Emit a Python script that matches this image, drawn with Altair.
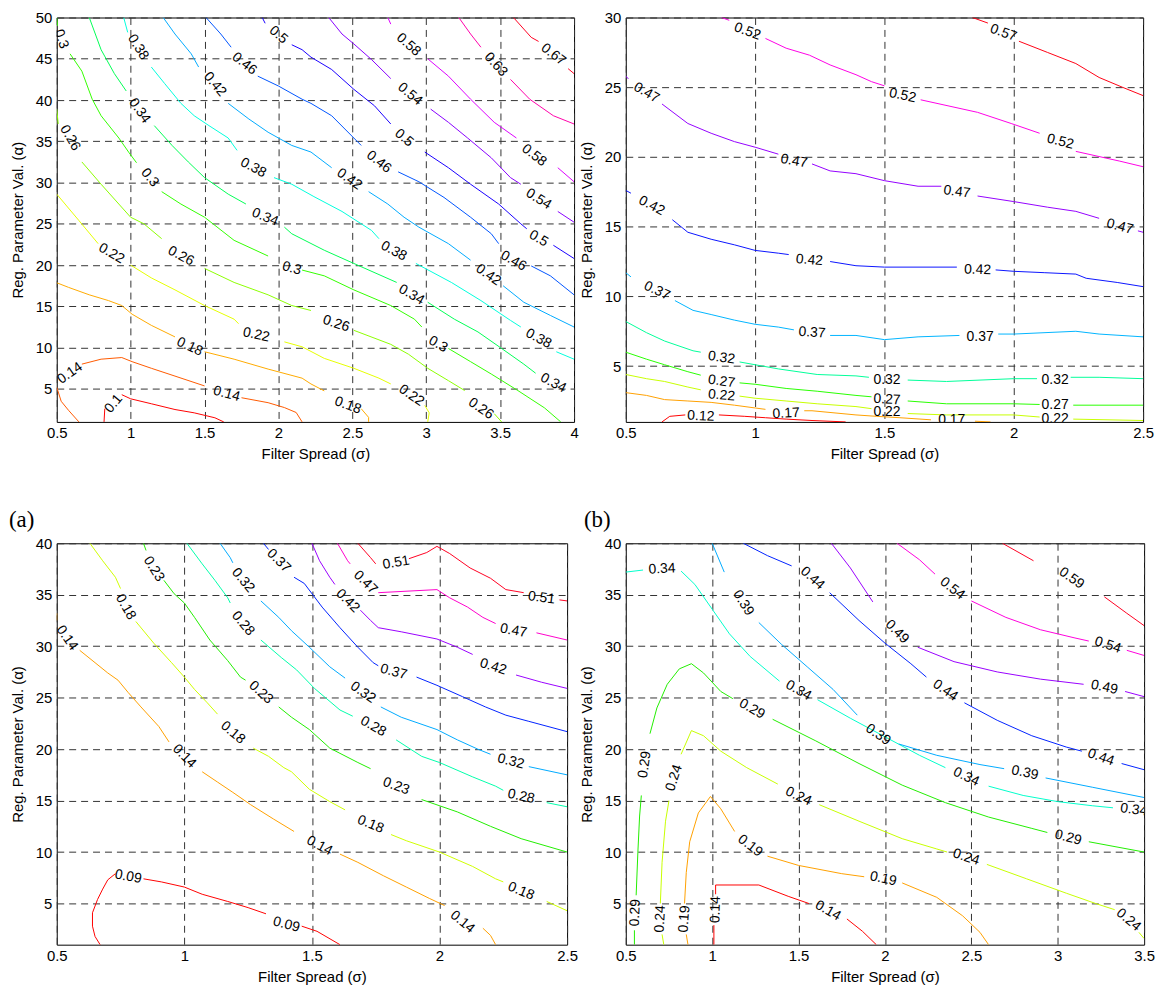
import altair as alt
import pandas as pd

FONT = "Liberation Sans"

# ---------------- Panel 1 (top-left) ----------------
P1_LEVELS = ["0.1", "0.14", "0.18", "0.22", "0.26", "0.3", "0.34", "0.38",
             "0.42", "0.46", "0.5", "0.54", "0.58", "0.63", "0.67"]
P1_COLORS = ["#ff0000", "#ff5a00", "#ffaa00", "#e6ff00", "#8cff00", "#33ff00",
             "#00ff55", "#00ffdd", "#00aaff", "#0055ff", "#1a00ff", "#8800ff",
             "#dd00ff", "#ff00aa", "#ff0022"]
P1_010 = [[(0.82, 1.0), (0.825, 2.6)],
          [(0.94, 4.3), (1.0, 3.8), (1.14, 3.2), (1.30, 2.5), (1.43, 2.1), (1.57, 1.5), (1.63, 1.0)]]
P1_014 = [[(0.5, 5.2), (0.53, 3.5), (0.58, 2.4), (0.65, 1.0)],
          [(0.67, 8.0), (0.80, 8.6), (0.94, 8.8), (1.01, 8.3), (1.14, 7.5), (1.30, 6.55), (1.50, 5.36)],
          [(1.75, 3.93), (1.93, 3.33), (2.04, 2.74), (2.12, 2.14), (2.16, 1.0)]]
P1_018 = [[(0.5, 17.86), (0.58, 17.3), (0.72, 16.4), (0.85, 15.7), (0.94, 15.1), (1.01, 14.05), (1.14, 12.7), (1.30, 11.3)],
          [(1.50, 9.5), (1.70, 8.6), (1.93, 7.4), (2.16, 6.3), (2.22, 5.6), (2.31, 4.76)],
          [(2.56, 2.6), (2.61, 1.55), (2.61, 1.0)]]
P1_022 = [[(0.5, 28.6), (0.65, 25.4), (0.78, 22.6)],
          [(1.0, 20.0), (1.14, 18.45), (1.30, 17.0), (1.50, 15.1), (1.70, 13.45), (1.73, 12.9)],
          [(2.04, 10.7), (2.16, 10.1), (2.31, 8.7), (2.51, 7.5), (2.68, 6.3), (2.76, 5.6)],
          [(2.99, 3.0), (3.02, 2.1), (3.01, 1.0)]]
P1_026 = [[(0.5, 38.9), (0.51, 37.1)],
          [(0.67, 32.5), (0.80, 29.8), (0.92, 27.4), (1.0, 25.8), (1.09, 25.0), (1.21, 23.2)],
          [(1.50, 19.6), (1.70, 17.9), (1.93, 16.4), (2.09, 15.1), (2.22, 14.5)],
          [(2.51, 12.1), (2.76, 10.4), (2.88, 9.2), (3.01, 7.5), (3.15, 6.0), (3.26, 4.8)],
          [(3.46, 2.0), (3.51, 1.0)]]
P1_030 = [[(0.5, 50.0), (0.505, 49.0)],
          [(0.59, 45.6), (0.67, 43.5), (0.74, 40.1), (0.80, 38.1), (0.92, 35.4), (0.99, 33.6), (1.04, 32.4)],
          [(1.21, 28.9), (1.34, 27.4), (1.50, 25.8), (1.70, 23.0), (1.93, 21.1)],
          [(2.16, 19.4), (2.31, 18.7), (2.51, 17.0), (2.76, 15.1), (2.92, 13.45), (2.97, 12.5)],
          [(3.15, 9.9), (3.30, 8.3), (3.44, 6.8), (3.62, 4.8), (3.80, 2.7), (3.91, 1.0)]]
P1_034 = [[(0.72, 50.0), (0.80, 46.1), (0.89, 43.2), (0.97, 41.1)],
          [(1.16, 36.9), (1.28, 34.5), (1.39, 32.5), (1.50, 30.6), (1.66, 28.6), (1.78, 27.4)],
          [(2.04, 24.6), (2.09, 23.8), (2.31, 21.8), (2.51, 20.2), (2.80, 17.9)],
          [(3.01, 15.5), (3.19, 13.45), (3.35, 11.9), (3.51, 9.9), (3.66, 8.0), (3.74, 6.9)]]
P1_038 = [[(0.953, 50.0), (0.98, 48.2)],
          [(1.14, 44.0), (1.23, 42.0), (1.34, 39.6), (1.43, 38.1), (1.53, 36.9), (1.66, 35.4), (1.72, 33.9)],
          [(1.97, 30.6), (2.09, 29.8), (2.24, 28.3), (2.43, 26.5), (2.63, 24.2), (2.68, 23.2)],
          [(2.93, 20.2), (3.17, 17.9), (3.37, 15.7), (3.57, 13.3), (3.64, 12.5)],
          [(3.88, 9.5), (4.0, 8.6)]]
P1_042 = [[(1.22, 50.0), (1.30, 48.0), (1.41, 45.6), (1.46, 44.0)],
          [(1.66, 39.6), (1.80, 37.7), (1.93, 36.1), (2.09, 34.5), (2.22, 33.7), (2.36, 31.8)],
          [(2.61, 28.9), (2.74, 27.4), (2.85, 25.8), (2.95, 24.6), (3.15, 22.6), (3.30, 20.6)],
          [(3.52, 17.5), (3.66, 15.5), (3.84, 13.9), (4.0, 12.5)]]
P1_046 = [[(1.51, 50.0), (1.61, 48.0), (1.68, 46.4)],
          [(1.86, 42.9), (2.0, 41.7), (2.16, 40.1), (2.22, 39.6), (2.36, 38.1), (2.51, 35.4), (2.56, 34.5)],
          [(2.81, 31.3), (2.95, 30.1), (3.12, 28.2), (3.30, 25.8), (3.44, 23.8), (3.49, 22.6)],
          [(3.71, 19.9), (3.84, 18.7), (4.0, 16.4)]]
P1_050 = [[(1.89, 50.0), (1.91, 49.3)],
          [(2.09, 46.7), (2.16, 46.1), (2.22, 45.2), (2.36, 43.7), (2.51, 41.3), (2.65, 39.3), (2.76, 37.1)],
          [(2.99, 33.7), (3.15, 31.8), (3.30, 29.8), (3.49, 27.4), (3.64, 25.0), (3.68, 24.4)],
          [(3.86, 22.4), (4.0, 20.8)]]
P1_054 = [[(2.34, 50.0), (2.43, 48.0), (2.51, 46.8), (2.63, 44.9), (2.76, 42.6)],
          [(3.03, 38.9), (3.15, 37.3), (3.28, 35.4), (3.44, 33.0), (3.57, 30.6), (3.64, 29.8)],
          [(3.89, 26.5), (4.0, 25.2)]]
P1_058 = [[(2.74, 50.0), (2.76, 49.2)],
          [(3.01, 45.0), (3.15, 42.9), (3.30, 40.1), (3.46, 37.3), (3.61, 35.4)],
          [(3.89, 31.8), (4.0, 30.1)]]
P1_063 = [[(3.22, 50.0), (3.30, 48.0), (3.37, 46.4)],
          [(3.57, 42.5), (3.70, 40.1), (3.86, 38.1), (4.0, 37.1)]]
P1_067 = [[(3.59, 50.0), (3.71, 47.6), (3.76, 47.1)],
          [(3.96, 43.8), (4.0, 43.2)]]
P1_LINES = [P1_010, P1_014, P1_018, P1_022, P1_026, P1_030, P1_034, P1_038,
            P1_042, P1_046, P1_050, P1_054, P1_058, P1_063, P1_067]
P1_LABELS = [("0.1", 0.885, 3.2, -50), ("0.14", 0.59, 6.9, -35), ("0.14", 1.65, 4.4, 15),
             ("0.18", 1.40, 10.1, 25), ("0.18", 2.47, 3.0, 20),
             ("0.22", 0.87, 21.4, 30), ("0.22", 1.85, 11.55, 12), ("0.22", 2.90, 4.2, 35),
             ("0.26", 0.59, 35.4, 60), ("0.26", 1.34, 21.1, 28), ("0.26", 2.39, 12.9, 18), ("0.26", 3.37, 2.6, 35),
             ("0.3", 0.53, 47.4, 70), ("0.3", 1.13, 30.6, 50), ("0.3", 2.09, 19.6, 15), ("0.3", 3.08, 10.4, 30),
             ("0.34", 1.06, 38.7, 55), ("0.34", 1.91, 25.8, 22), ("0.34", 2.90, 16.4, 30), ("0.34", 3.86, 5.7, 28),
             ("0.38", 1.05, 46.4, 58), ("0.38", 1.83, 31.8, 28), ("0.38", 2.78, 21.7, 28), ("0.38", 3.76, 11.1, 28),
             ("0.42", 1.57, 41.9, 50), ("0.42", 2.48, 30.4, 35), ("0.42", 3.42, 18.8, 35),
             ("0.46", 1.77, 44.4, 38), ("0.46", 2.68, 32.5, 38), ("0.46", 3.59, 20.5, 30),
             ("0.5", 2.0, 47.9, 40), ("0.5", 2.85, 35.4, 40), ("0.5", 3.76, 23.2, 30),
             ("0.54", 2.89, 40.7, 40), ("0.54", 3.76, 28.0, 32),
             ("0.58", 2.88, 46.7, 42), ("0.58", 3.73, 33.3, 38),
             ("0.63", 3.47, 44.3, 48), ("0.67", 3.86, 45.5, 38)]
P1_XTICKS = [0.5, 1, 1.5, 2, 2.5, 3, 3.5, 4]
P1_YTICKS = [5, 10, 15, 20, 25, 30, 35, 40, 45, 50]

# ---------------- Panel 2 (top-right) ----------------
P2_LEVELS = ["0.12", "0.17", "0.22", "0.27", "0.32", "0.37", "0.42", "0.47", "0.52", "0.57"]
P2_COLORS = ["#ff0000", "#ffa000", "#c8ff00", "#28ff00", "#00ff99", "#00b4ff",
             "#0a14ff", "#9400ff", "#ff00e6", "#ff0014"]
P2_012 = [[(0.64, 1.0), (0.67, 1.4), (0.73, 1.5)],
          [(0.86, 1.5), (0.96, 1.4), (1.04, 1.3), (1.12, 1.2), (1.22, 1.1), (1.35, 1.0)]]
P2_017 = [[(0.5, 3.1), (0.58, 2.9), (0.65, 2.6), (0.74, 2.5), (0.83, 2.4), (0.92, 2.2), (1.0, 2.0), (1.04, 1.9)],
          [(1.19, 1.8), (1.22, 1.8), (1.39, 1.5), (1.47, 1.4), (1.56, 1.3), (1.68, 1.15)],
          [(1.85, 1.05), (1.91, 1.0)]]
P2_022 = [[(0.5, 4.4), (0.58, 4.1), (0.65, 3.9), (0.74, 3.5), (0.79, 3.3)],
          [(0.94, 2.85), (1.0, 2.7), (1.12, 2.5), (1.24, 2.3), (1.39, 2.1), (1.45, 1.95)],
          [(1.59, 1.6), (1.74, 1.5), (2.0, 1.5), (2.10, 1.35)],
          [(2.23, 1.2), (2.5, 1.1)]]
P2_027 = [[(0.5, 6.0), (0.58, 5.5), (0.65, 5.1), (0.74, 4.6), (0.79, 4.35)],
          [(0.94, 3.8), (1.0, 3.7), (1.12, 3.4), (1.24, 3.2), (1.39, 2.9), (1.45, 2.8)],
          [(1.59, 2.5), (1.74, 2.3), (2.0, 2.3), (2.10, 2.25)],
          [(2.23, 2.2), (2.5, 2.2)]]
P2_032 = [[(0.5, 8.2), (0.58, 7.4), (0.65, 6.8), (0.76, 6.1), (0.79, 6.0)],
          [(0.94, 5.3), (1.0, 5.1), (1.09, 4.8), (1.24, 4.4), (1.39, 4.3), (1.44, 4.2)],
          [(1.59, 4.0), (1.74, 3.9), (2.0, 4.1), (2.09, 4.1)],
          [(2.22, 4.2), (2.33, 4.2), (2.5, 4.1)]]
P2_037 = [[(0.5, 11.7), (0.52, 11.4)],
          [(0.69, 9.7), (0.76, 9.0), (0.83, 8.7), (0.92, 8.3), (1.0, 8.0), (1.09, 7.8), (1.15, 7.6)],
          [(1.29, 7.2), (1.39, 7.2), (1.50, 6.9), (1.63, 7.1), (1.79, 7.2)],
          [(1.94, 7.3), (2.0, 7.3), (2.24, 7.5), (2.33, 7.3), (2.5, 7.1)]]
P2_042 = [[(0.5, 17.6), (0.52, 17.4)],
          [(0.68, 15.5), (0.74, 14.6), (0.83, 14.1), (0.92, 13.7), (1.0, 13.3), (1.09, 13.1), (1.13, 13.0)],
          [(1.29, 12.5), (1.39, 12.2), (1.50, 12.1), (1.78, 12.1)],
          [(1.93, 11.9), (2.0, 11.8), (2.12, 11.7), (2.24, 11.6), (2.28, 11.3), (2.40, 11.0), (2.5, 10.7)]]
P2_047 = [[(0.5, 25.8), (0.51, 25.6)],
          [(0.64, 23.8), (0.74, 22.4), (0.83, 21.7), (0.92, 21.1), (1.0, 20.7), (1.09, 20.2)],
          [(1.22, 19.5), (1.29, 19.0), (1.39, 18.8), (1.50, 18.3), (1.63, 17.9), (1.72, 17.9)],
          [(1.86, 17.2), (2.0, 16.8), (2.13, 16.4), (2.24, 16.1), (2.33, 15.6)],
          [(2.48, 14.7), (2.5, 14.6)]]
P2_052 = [[(0.87, 30.0), (0.90, 29.8)],
          [(1.04, 28.5), (1.12, 27.8), (1.21, 27.3), (1.29, 26.6), (1.39, 25.9), (1.45, 25.4), (1.50, 25.1)],
          [(1.64, 24.1), (1.86, 23.2), (1.99, 22.4), (2.10, 21.7)],
          [(2.24, 20.4), (2.41, 19.7), (2.5, 19.3)]]
P2_057 = [[(1.84, 30.0), (1.90, 29.6)],
          [(2.02, 28.3), (2.13, 27.5), (2.24, 26.7), (2.33, 25.7), (2.42, 25.0), (2.5, 24.4)]]
P2_LINES = [P2_012, P2_017, P2_022, P2_027, P2_032, P2_037, P2_042, P2_047, P2_052, P2_057]
P2_LABELS = [("0.12", 0.79, 1.4, 3), ("0.17", 1.12, 1.6, -3), ("0.17", 1.76, 1.1, 0),
             ("0.22", 0.87, 2.9, 5), ("0.22", 1.51, 1.7, 0), ("0.22", 2.16, 1.2, 0),
             ("0.27", 0.87, 3.9, 8), ("0.27", 1.51, 2.6, 3), ("0.27", 2.16, 2.2, 0),
             ("0.32", 0.87, 5.6, 8), ("0.32", 1.51, 4.0, 0), ("0.32", 2.16, 4.0, 0),
             ("0.37", 0.62, 10.4, 25), ("0.37", 1.22, 7.4, 4), ("0.37", 1.87, 7.1, 0),
             ("0.42", 0.60, 16.5, 28), ("0.42", 1.21, 12.6, 5), ("0.42", 1.86, 11.9, 2),
             ("0.47", 0.58, 24.6, 30), ("0.47", 1.15, 19.7, 10), ("0.47", 1.78, 17.5, 8), ("0.47", 2.41, 15.0, 15),
             ("0.52", 0.97, 29.0, 20), ("0.52", 1.57, 24.4, 12), ("0.52", 2.18, 21.1, 14),
             ("0.57", 1.96, 28.9, 20)]
P2_XTICKS = [0.5, 1, 1.5, 2, 2.5]
P2_YTICKS = [5, 10, 15, 20, 25, 30]

# ---------------- Panel 3 (bottom-left, "(a)") ----------------
P3_LEVELS = ["0.09", "0.14", "0.18", "0.23", "0.28", "0.32", "0.37", "0.42", "0.47", "0.51"]
P3_COLORS = ["#ff0000", "#ffa000", "#d0ff00", "#22ee00", "#00ffaa", "#00aaff",
             "#0022ff", "#9900ff", "#ff00cc", "#ff0022"]
P3_009 = [[(0.67, 1.0), (0.65, 1.8), (0.64, 2.8), (0.64, 4.1), (0.66, 5.4), (0.68, 6.4), (0.70, 7.3), (0.73, 7.9)],
          [(0.84, 7.4), (0.91, 7.1), (1.0, 6.6), (1.07, 5.9), (1.17, 5.2), (1.25, 4.6), (1.32, 4.0)],
          [(1.46, 2.8), (1.52, 2.3), (1.61, 1.0)]]
P3_014 = [[(0.5, 33.2), (0.50, 32.5)],
          [(0.59, 29.6), (0.65, 28.4), (0.70, 27.4), (0.74, 26.7), (0.78, 25.5), (0.83, 24.1), (0.90, 22.2), (0.94, 20.7)],
          [(1.07, 17.8), (1.13, 16.8), (1.19, 15.8), (1.26, 14.6), (1.35, 13.2), (1.43, 12.0)],
          [(1.61, 9.8), (1.68, 9.0), (1.78, 7.7), (1.87, 6.6), (1.96, 5.5), (2.02, 4.8)],
          [(2.17, 2.6), (2.20, 1.9), (2.22, 1.0)]]
P3_018 = [[(0.63, 40.0), (0.68, 38.3), (0.73, 36.7), (0.75, 35.6)],
          [(0.81, 32.4), (0.88, 30.3), (0.95, 28.4), (1.0, 27.0), (1.04, 25.8), (1.09, 24.5), (1.13, 23.4)],
          [(1.27, 20.1), (1.33, 19.3), (1.39, 18.2), (1.42, 17.8), (1.49, 16.1), (1.57, 14.9), (1.63, 14.1)],
          [(1.81, 11.7), (1.87, 11.1), (2.0, 10.0), (2.13, 8.6), (2.22, 7.4), (2.25, 7.1)],
          [(2.42, 5.2), (2.5, 4.3)]]
P3_023 = [[(0.84, 40.0), (0.85, 39.3)],
          [(0.92, 36.4), (0.96, 35.1), (1.0, 34.2), (1.04, 32.8), (1.10, 30.6), (1.17, 28.6), (1.22, 27.0), (1.24, 26.7)],
          [(1.37, 24.1), (1.42, 23.1), (1.49, 21.9), (1.57, 20.1), (1.68, 18.7), (1.73, 18.1)],
          [(1.93, 15.1), (2.07, 13.9), (2.20, 12.5), (2.32, 11.3), (2.5, 10.0)]]
P3_028 = [[(1.01, 40.0), (1.07, 38.0), (1.12, 36.4), (1.17, 34.7), (1.18, 34.2)],
          [(1.30, 30.6), (1.38, 28.9), (1.44, 27.7), (1.51, 25.9), (1.61, 23.8), (1.66, 23.2)],
          [(1.83, 20.9), (1.93, 19.3), (2.0, 18.7), (2.13, 17.3), (2.22, 16.4), (2.25, 16.0)],
          [(2.42, 14.8), (2.5, 14.4)]]
P3_032 = [[(1.14, 40.0), (1.18, 38.6), (1.19, 38.1)],
          [(1.30, 34.4), (1.37, 32.8), (1.42, 31.5), (1.49, 29.9), (1.57, 28.0), (1.63, 26.9)],
          [(1.77, 24.1), (1.85, 23.1), (1.99, 21.9), (2.07, 20.9), (2.15, 20.0), (2.20, 19.5)],
          [(2.35, 18.3), (2.5, 17.5)]]
P3_037 = [[(1.31, 40.0), (1.33, 39.4)],
          [(1.43, 36.7), (1.47, 36.1), (1.54, 33.8), (1.61, 31.8), (1.68, 29.9), (1.74, 28.4), (1.76, 28.1)],
          [(1.91, 27.0), (1.99, 26.2), (2.09, 25.1), (2.18, 24.1), (2.26, 23.3), (2.35, 22.7), (2.5, 21.7)]]
P3_042 = [[(1.50, 40.0), (1.53, 38.3), (1.57, 36.7), (1.59, 36.0)],
          [(1.69, 33.5), (1.73, 32.5), (1.76, 31.8), (1.85, 31.4), (1.99, 30.7), (2.07, 29.9), (2.13, 29.2)],
          [(2.30, 27.2), (2.40, 26.5), (2.5, 25.9)]]
P3_047 = [[(1.60, 40.0), (1.64, 38.3), (1.65, 38.0)],
          [(1.76, 35.2), (1.99, 35.5), (2.04, 34.7), (2.11, 33.8), (2.17, 32.8), (2.22, 32.2)],
          [(2.38, 31.3), (2.5, 30.6)]]
P3_051 = [[(1.68, 40.0), (1.73, 38.6), (1.75, 38.0)],
          [(1.88, 38.5), (1.95, 39.1), (1.99, 39.7), (2.04, 39.0), (2.12, 37.6), (2.20, 36.6), (2.26, 35.5), (2.33, 35.2)],
          [(2.47, 34.5), (2.5, 34.4)]]
P3_LINES = [P3_009, P3_014, P3_018, P3_023, P3_028, P3_032, P3_037, P3_042, P3_047, P3_051]
P3_LABELS = [("0.09", 0.78, 7.6, 10), ("0.09", 1.40, 2.95, 15),
             ("0.14", 0.54, 30.8, 55), ("0.14", 1.0, 19.3, 45), ("0.14", 1.53, 10.6, 28), ("0.14", 2.09, 3.2, 40),
             ("0.18", 0.77, 33.8, 60), ("0.18", 1.19, 21.6, 40), ("0.18", 1.73, 12.7, 22), ("0.18", 2.32, 6.2, 22),
             ("0.23", 0.88, 37.5, 58), ("0.23", 1.30, 25.5, 42), ("0.23", 1.83, 16.4, 20),
             ("0.28", 1.23, 32.2, 50), ("0.28", 1.74, 22.2, 30), ("0.28", 2.32, 15.4, 12),
             ("0.32", 1.23, 36.4, 50), ("0.32", 1.70, 25.5, 35), ("0.32", 2.28, 18.8, 14),
             ("0.37", 1.37, 38.3, 45), ("0.37", 1.82, 27.5, 15),
             ("0.42", 1.64, 34.4, 45), ("0.42", 2.21, 28.0, 18),
             ("0.47", 1.71, 36.2, 45), ("0.47", 2.29, 31.5, 10),
             ("0.51", 1.83, 38.1, -10), ("0.51", 2.40, 34.7, 8)]
P3_XTICKS = [0.5, 1, 1.5, 2, 2.5]
P3_YTICKS = [5, 10, 15, 20, 25, 30, 35, 40]

# ---------------- Panel 4 (bottom-right, "(b)") ----------------
P4_LEVELS = ["0.14", "0.19", "0.24", "0.29", "0.34", "0.39", "0.44", "0.49", "0.54", "0.59"]
P4_COLORS = ["#ff0000", "#ffa000", "#c8ff00", "#22ee00", "#00ffcc", "#00aaff",
             "#0022ff", "#9900ff", "#ff00dd", "#ff0022"]
P4_014 = [[(1.01, 1.0), (1.01, 2.9)],
          [(1.02, 5.9), (1.02, 6.8), (1.27, 6.8), (1.44, 5.7), (1.56, 5.0)],
          [(1.78, 3.5), (1.87, 2.3), (1.95, 1.0)]]
P4_019 = [[(0.86, 1.0), (0.85, 2.0)],
          [(0.84, 5.0), (0.85, 8.0), (0.87, 11.0), (0.92, 13.8), (0.99, 15.4), (1.05, 14.2), (1.13, 12.0)],
          [(1.32, 9.6), (1.5, 8.7), (1.75, 7.9), (1.88, 7.6)],
          [(2.10, 7.0), (2.30, 5.6), (2.45, 3.8), (2.55, 2.2), (2.60, 1.0)]]
P4_024 = [[(0.72, 1.0), (0.71, 2.0)],
          [(0.70, 5.0), (0.71, 9.0), (0.73, 13.0), (0.75, 15.0)],
          [(0.82, 19.5), (0.88, 21.8), (0.95, 21.3), (1.05, 19.8), (1.20, 18.2), (1.38, 16.6)],
          [(1.62, 14.6), (1.85, 13.0), (2.10, 11.3), (2.30, 10.3), (2.36, 10.0)],
          [(2.59, 8.8), (2.82, 7.4), (3.05, 6.0), (3.22, 5.0), (3.33, 4.4)],
          [(3.47, 2.2), (3.5, 1.6)]]
P4_029 = [[(0.55, 1.0), (0.55, 2.4)],
          [(0.56, 5.8), (0.57, 10.0), (0.58, 13.5), (0.59, 15.5)],
          [(0.64, 21.5), (0.68, 24.0), (0.74, 26.3), (0.81, 27.8), (0.88, 28.3), (0.95, 27.4), (1.05, 25.6), (1.12, 24.9)],
          [(1.35, 22.9), (1.60, 20.8), (1.85, 18.6), (2.10, 16.5), (2.35, 14.8), (2.60, 13.4), (2.85, 12.3), (2.94, 11.9)],
          [(3.18, 11.0), (3.5, 10.0)]]
P4_034 = [[(0.5, 37.2), (0.60, 37.4)],
          [(0.82, 37.3), (0.90, 36.0), (1.0, 33.6), (1.10, 31.2), (1.22, 29.0), (1.39, 26.6)],
          [(1.61, 24.8), (1.80, 23.0), (2.0, 21.2), (2.20, 19.4), (2.35, 18.2)],
          [(2.60, 16.4), (2.80, 15.5), (3.0, 14.9), (3.20, 14.5), (3.32, 14.3)]]
P4_039 = [[(1.0, 40.0), (1.07, 37.2)],
          [(1.27, 32.3), (1.40, 30.2), (1.55, 28.0), (1.70, 25.8), (1.84, 23.3)],
          [(2.08, 20.5), (2.30, 19.4), (2.55, 18.5), (2.69, 18.1)],
          [(2.93, 17.2), (3.20, 16.3), (3.5, 15.3)]]
P4_044 = [[(1.18, 40.0), (1.32, 38.8), (1.46, 37.8)],
          [(1.68, 35.2), (1.85, 32.5), (2.0, 30.3), (2.15, 28.3), (2.24, 27.0)],
          [(2.46, 24.5), (2.65, 22.8), (2.85, 21.3), (3.05, 20.2), (3.14, 19.8)],
          [(3.37, 18.6), (3.5, 18.0)]]
P4_049 = [[(1.69, 40.0), (1.80, 37.6), (1.93, 34.3)],
          [(2.19, 29.9), (2.40, 28.5), (2.65, 27.5), (2.90, 26.8), (3.15, 26.3)],
          [(3.39, 25.6), (3.5, 25.1)]]
P4_054 = [[(2.07, 40.0), (2.20, 38.4), (2.29, 37.0)],
          [(2.50, 34.4), (2.70, 32.8), (2.90, 31.6), (3.10, 30.8), (3.18, 30.5)],
          [(3.40, 29.6), (3.5, 29.1)]]
P4_059 = [[(2.68, 40.0), (2.86, 38.3)],
          [(3.27, 34.8), (3.40, 33.2), (3.5, 32.0)]]
P4_LINES = [P4_014, P4_019, P4_024, P4_029, P4_034, P4_039, P4_044, P4_049, P4_054, P4_059]
P4_LABELS = [("0.14", 1.02, 4.4, -88), ("0.14", 1.67, 4.3, 30),
             ("0.19", 0.84, 3.5, -86), ("0.19", 1.22, 10.6, 38), ("0.19", 1.99, 7.4, 12),
             ("0.24", 0.70, 3.5, -87), ("0.24", 0.78, 17.2, -72), ("0.24", 1.50, 15.4, 25),
             ("0.24", 2.47, 9.5, 18), ("0.24", 3.41, 3.4, 40),
             ("0.29", 0.555, 4.1, -88), ("0.29", 0.61, 18.5, -82), ("0.29", 1.23, 23.9, 30), ("0.29", 3.06, 11.4, 15),
             ("0.34", 0.71, 37.5, -3), ("0.34", 1.50, 25.7, 30), ("0.34", 2.47, 17.3, 25), ("0.34", 3.44, 14.1, 8),
             ("0.39", 1.18, 34.2, 58), ("0.39", 1.96, 21.4, 35), ("0.39", 2.81, 17.7, 12),
             ("0.44", 1.58, 36.6, 42), ("0.44", 2.35, 25.7, 35), ("0.44", 3.25, 19.2, 20),
             ("0.49", 2.07, 31.4, 45), ("0.49", 3.27, 26.0, 12),
             ("0.54", 2.39, 35.6, 38), ("0.54", 3.29, 30.1, 18),
             ("0.59", 3.08, 36.6, 35)]
P4_XTICKS = [0.5, 1, 1.5, 2, 2.5, 3, 3.5]
P4_YTICKS = [5, 10, 15, 20, 25, 30, 35, 40]

X_TITLE = "Filter Spread (σ)"
Y_TITLE = "Reg. Parameter Val. (α)"


def panel(levels, colors, lines, labels, xdom, ydom, xticks, yticks, w, h, title=None, title_dx=0):
    rows = []
    for lev, col, segs in zip(levels, colors, lines):
        for si, seg in enumerate(segs):
            for k, (x, y) in enumerate(seg):
                rows.append({"level": lev, "seg": f"{lev}-{si}", "k": k, "x": x, "y": y, "c": col})
    ldf = pd.DataFrame(rows)
    tdf = pd.DataFrame([{"t": t, "x": x, "y": y, "a": a % 360} for t, x, y, a in labels])
    xs = alt.Scale(domain=xdom, nice=False, zero=False)
    ys = alt.Scale(domain=ydom, nice=False, zero=False)
    xax = alt.Axis(values=xticks, format="~g", title=X_TITLE, labelFlush=False)
    yax = alt.Axis(values=yticks, format="~g", title=Y_TITLE)
    X = alt.X("x:Q", scale=xs, axis=xax)
    Y = alt.Y("y:Q", scale=ys, axis=yax)
    ln = alt.Chart(ldf).mark_line(strokeWidth=1, clip=True).encode(
        x=X, y=Y, detail="seg:N", order="k:Q", color=alt.Color("c:N", scale=None))
    tx = alt.Chart(tdf).mark_text(font=FONT, fontSize=14, color="black", clip=True).encode(
        x=X, y=Y, text="t:N", angle=alt.Angle("a:Q", scale=None))
    ch = alt.layer(ln, tx).properties(width=w, height=h)
    if title:
        ch = ch.properties(title=alt.Title(title, anchor="start", frame="group", dx=title_dx, dy=24,
                                           offset=10, font="Liberation Serif", fontSize=23,
                                           fontWeight="normal", color="black", baseline="alphabetic"))
    return ch


p1 = panel(P1_LEVELS, P1_COLORS, P1_LINES, P1_LABELS, [0.5, 4], [1, 50], P1_XTICKS, P1_YTICKS, 520, 406.5)
p2 = panel(P2_LEVELS, P2_COLORS, P2_LINES, P2_LABELS, [0.5, 2.5], [1, 30], P2_XTICKS, P2_YTICKS, 520, 406.5)
p3 = panel(P3_LEVELS, P3_COLORS, P3_LINES, P3_LABELS, [0.5, 2.5], [1, 40], P3_XTICKS, P3_YTICKS, 513, 403.5,
           title="(a)", title_dx=-48)
p4 = panel(P4_LEVELS, P4_COLORS, P4_LINES, P4_LABELS, [0.5, 3.5], [1, 40], P4_XTICKS, P4_YTICKS, 521, 403.5,
           title="(b)", title_dx=-42)

chart = alt.concat(p1, p2, p3, p4, columns=2, spacing={"row": 121.5, "column": 52}, bounds="flush").properties(
    padding={"left": 0, "top": -1, "right": 5, "bottom": 5}, background="white"
).configure_view(stroke="black", strokeWidth=1).configure_axis(
    labelFont=FONT, labelFontSize=15, labelColor="black", titleFont=FONT, titleFontSize=15,
    titleColor="black", titleFontWeight="normal", grid=True, gridColor="#333333", gridDash=[7, 5],
    gridWidth=1, ticks=False, tickSize=0, domain=False
).configure_axisX(labelPadding=4, titlePadding=6).configure_axisY(labelPadding=5, titlePadding=10)

chart.save("out.html", embed_options={"renderer": "svg", "actions": False})
